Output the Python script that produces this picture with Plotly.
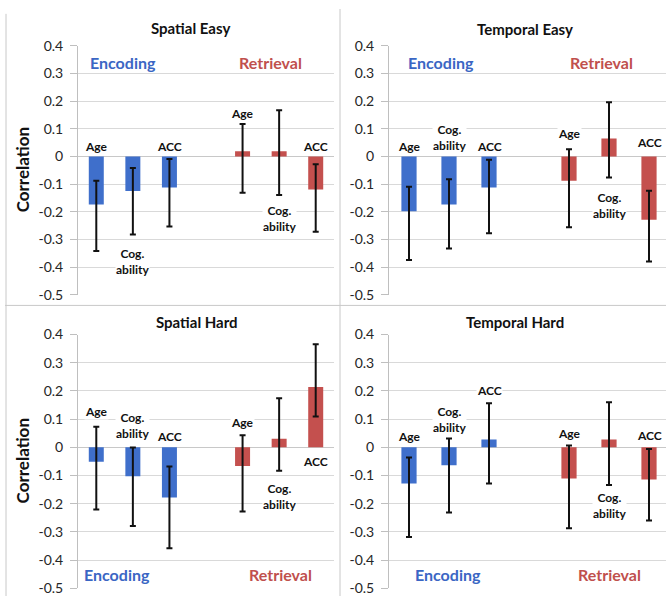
import plotly.graph_objects as go

# ---------------- data ----------------
categories = ["Age", "Cog. ability", "ACC"]
groups = ["Encoding", "Retrieval"]
tick_vals = [0.4, 0.3, 0.2, 0.1, 0.0, -0.1, -0.2, -0.3, -0.4, -0.5]
tick_text = ["0.4", "0.3", "0.2", "0.1", "0", "-0.1", "-0.2", "-0.3", "-0.4", "-0.5"]
panel_titles = ["Spatial Easy", "Temporal Easy", "Spatial Hard", "Temporal Hard"]

# Spatial Easy
se_enc = [-0.174, -0.125, -0.112]
se_enc_lo = [-0.342, -0.282, -0.253]
se_enc_hi = [-0.088, -0.042, -0.009]
se_ret = [0.019, 0.019, -0.119]
se_ret_lo = [-0.131, -0.139, -0.272]
se_ret_hi = [0.118, 0.167, -0.028]
# Temporal Easy
te_enc = [-0.198, -0.174, -0.112]
te_enc_lo = [-0.374, -0.333, -0.278]
te_enc_hi = [-0.109, -0.082, -0.012]
te_ret = [-0.088, 0.065, -0.229]
te_ret_lo = [-0.256, -0.076, -0.380]
te_ret_hi = [0.026, 0.196, -0.124]
# Spatial Hard
sh_enc = [-0.051, -0.103, -0.178]
sh_enc_lo = [-0.221, -0.279, -0.358]
sh_enc_hi = [0.073, -0.001, -0.068]
sh_ret = [-0.066, 0.030, 0.214]
sh_ret_lo = [-0.228, -0.083, 0.109]
sh_ret_hi = [0.043, 0.174, 0.366]
# Temporal Hard
th_enc = [-0.128, -0.064, 0.028]
th_enc_lo = [-0.318, -0.231, -0.128]
th_enc_hi = [-0.036, 0.031, 0.156]
th_ret = [-0.111, 0.028, -0.114]
th_ret_lo = [-0.287, -0.134, -0.260]
th_ret_hi = [0.006, 0.160, -0.006]

enc_x = [0, 1, 2]
ret_x = [4, 5, 6]

# ---------------- layout helpers ----------------
W, H = 666, 604
BLUE = "#3F6FCB"
RED = "#C4504E"
BLUE_TXT = "#3A66C4"
RED_TXT = "#C0504D"
FONT = "Lato"

def px_x(p):
    return p / W

def px_y(p):
    return 1 - p / H

panels = [
    dict(data=(se_enc, se_enc_lo, se_enc_hi, se_ret, se_ret_lo, se_ret_hi),
         xdom=[px_x(78), px_x(334)], xr=[-0.5, 6.5], ydom=[px_y(294), px_y(38)],
         width=0.41, title_xy=(190, 20),
         label_y=[0.038, -0.38, 0.038, 0.155, -0.225, 0.038],
         group_xy=[(0.73, 0.34), (4.76, 0.34)], ytitle=True),
    dict(data=(te_enc, te_enc_lo, te_enc_hi, te_ret, te_ret_lo, te_ret_hi),
         xdom=[px_x(389), 1.0], xr=[-0.5, 6.425], ydom=[px_y(294), px_y(38)],
         width=0.38, title_xy=(525, 21),
         label_y=[0.038, 0.067, 0.038, 0.085, -0.176, 0.05],
         group_xy=[(0.8, 0.34), (4.8, 0.34)], ytitle=False),
    dict(data=(sh_enc, sh_enc_lo, sh_enc_hi, sh_ret, sh_ret_lo, sh_ret_hi),
         xdom=[px_x(78), px_x(334)], xr=[-0.5, 6.5], ydom=[px_y(596), px_y(335)],
         width=0.41, title_xy=(197, 322),
         label_y=[0.128, 0.078, 0.038, 0.088, -0.173, -0.05],
         group_xy=[(0.57, -0.45), (5.03, -0.45)], ytitle=True),
    dict(data=(th_enc, th_enc_lo, th_enc_hi, th_ret, th_ret_lo, th_ret_hi),
         xdom=[px_x(389), 1.0], xr=[-0.5, 6.425], ydom=[px_y(596), px_y(335)],
         width=0.38, title_xy=(515, 322),
         label_y=[0.037, 0.10, 0.203, 0.049, -0.207, 0.043],
         group_xy=[(0.975, -0.45), (5.0, -0.45)], ytitle=False),
]

fig = go.Figure()
annotations = []
layout_axes = {}

for i, (p, title) in enumerate(zip(panels, panel_titles)):
    n = "" if i == 0 else str(i + 1)
    xa, ya = "x" + n, "y" + n
    enc, enc_lo, enc_hi, ret, ret_lo, ret_hi = p["data"]
    for xs, vals, lo, hi, col in [(enc_x, enc, enc_lo, enc_hi, BLUE),
                                  (ret_x, ret, ret_lo, ret_hi, RED)]:
        fig.add_trace(go.Bar(
            x=xs, y=vals, xaxis=xa, yaxis=ya, width=p["width"],
            marker=dict(color=col, line=dict(width=0)),
            error_y=dict(type="data", symmetric=False,
                         array=[h - v for h, v in zip(hi, vals)],
                         arrayminus=[v - l for v, l in zip(vals, lo)],
                         color="#111111", thickness=2, width=3),
            showlegend=False, hoverinfo="skip"))
    layout_axes["xaxis" + n] = dict(domain=p["xdom"], range=p["xr"], anchor=ya,
                                    showgrid=False, zeroline=False, showticklabels=False,
                                    ticks="", showline=False, fixedrange=True)
    layout_axes["yaxis" + n] = dict(domain=p["ydom"], range=[-0.5, 0.4], anchor=xa,
                                    tickvals=tick_vals, ticktext=tick_text,
                                    showgrid=True, gridcolor="#D9D9D9", gridwidth=1,
                                    zeroline=True, zerolinecolor="#C8C8C8", zerolinewidth=1,
                                    showline=True, linecolor="#BFBFBF", linewidth=1,
                                    ticks="outside", ticklen=7, tickcolor="#BFBFBF",
                                    ticklabelstandoff=4,
                                    tickfont=dict(family=FONT, size=14, color="#262626"),
                                    fixedrange=True)
    # title
    tx, ty = p["title_xy"]
    annotations.append(dict(text=title, x=px_x(tx), y=px_y(ty), xref="paper", yref="paper",
                            showarrow=False, xanchor="center", yanchor="middle",
                            font=dict(family=FONT, size=15, color="#111111", weight="bold")))
    # bar labels
    for xv, lab, ly in zip(enc_x + ret_x, categories + categories, p["label_y"]):
        annotations.append(dict(text=lab.replace(" ", "<br>"), x=xv, y=ly, xref=xa, yref=ya,
                                showarrow=False, xanchor="center", yanchor="middle",
                                bgcolor="white", borderpad=0,
                                font=dict(family=FONT, size=12, color="#111111", weight="bold")))
    # group labels
    for (gx, gy), g, c in zip(p["group_xy"], groups, [BLUE_TXT, RED_TXT]):
        annotations.append(dict(text=g, x=gx, y=gy, xref=xa, yref=ya, showarrow=False,
                                xanchor="center", yanchor="middle", bgcolor="white", borderpad=0,
                                font=dict(family=FONT, size=16, color=c, weight="bold")))
    if p["ytitle"]:
        annotations.append(dict(text="Correlation", x=px_x(22),
                                y=(p["ydom"][0] + p["ydom"][1]) / 2,
                                xref="paper", yref="paper", showarrow=False, textangle=-90,
                                xanchor="center", yanchor="middle",
                                font=dict(family=FONT, size=17, color="#111111", weight="bold")))

shapes = [
    dict(type="line", xref="paper", yref="paper", x0=px_x(340), x1=px_x(340), y0=0, y1=1,
         line=dict(color="#C8C8C8", width=1)),
    dict(type="line", xref="paper", yref="paper", x0=px_x(5), x1=1, y0=px_y(305), y1=px_y(305),
         line=dict(color="#C8C8C8", width=1)),
    dict(type="line", xref="paper", yref="paper", x0=px_x(6), x1=px_x(6), y0=0, y1=px_y(5),
         line=dict(color="#C8C8C8", width=1)),
]

fig.update_layout(
    width=W, height=H, margin=dict(l=0, r=0, t=0, b=0),
    paper_bgcolor="white", plot_bgcolor="white",
    barmode="overlay", annotations=annotations, shapes=shapes,
    font=dict(family=FONT), **layout_axes)

fig.write_html("out.html", config={"displayModeBar": False},
               post_script="document.body.style.margin='0px';document.body.style.overflow='hidden';")
